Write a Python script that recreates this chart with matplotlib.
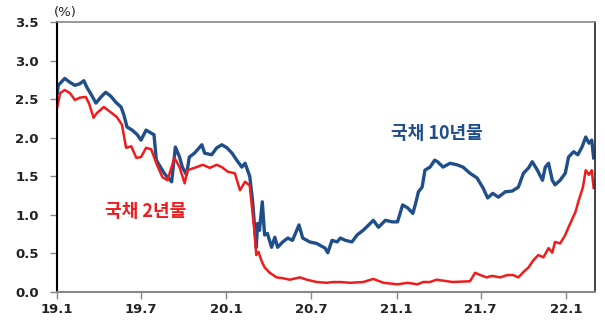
import numpy as np
import pandas as pd
import matplotlib.pyplot as plt
import matplotlib.dates as mdates

plt.rcParams['font.family'] = ['Noto Sans CJK KR', 'DejaVu Sans']

# 국채 10년물
dates_10y = ['2019-01-02', '2019-01-04', '2019-01-18', '2019-01-29', '2019-02-09', '2019-02-19',
             '2019-02-28', '2019-03-07', '2019-03-17', '2019-03-26', '2019-04-06', '2019-04-16',
             '2019-04-27', '2019-05-08', '2019-05-19', '2019-05-25', '2019-06-01', '2019-06-12',
             '2019-06-23', '2019-07-01', '2019-07-12', '2019-07-23', '2019-07-29', '2019-08-03',
             '2019-08-09', '2019-08-20', '2019-08-27', '2019-09-05', '2019-09-13', '2019-09-22',
             '2019-09-28', '2019-10-07', '2019-10-13', '2019-10-24', '2019-11-09', '2019-11-15',
             '2019-11-30', '2019-12-11', '2019-12-22', '2020-01-02', '2020-01-13', '2020-01-23',
             '2020-02-03', '2020-02-10', '2020-02-20', '2020-02-26', '2020-03-05', '2020-03-08',
             '2020-03-12', '2020-03-18', '2020-03-23', '2020-03-29', '2020-04-07', '2020-04-14',
             '2020-04-20', '2020-05-01', '2020-05-12', '2020-05-22', '2020-06-05', '2020-06-13',
             '2020-06-28', '2020-07-13', '2020-07-31', '2020-08-06', '2020-08-15', '2020-08-26',
             '2020-09-02', '2020-09-13', '2020-09-27', '2020-10-08', '2020-10-21', '2020-11-02',
             '2020-11-12', '2020-11-23', '2020-12-08', '2020-12-23', '2021-01-03', '2021-01-14',
             '2021-01-25', '2021-02-05', '2021-02-11', '2021-02-17', '2021-02-25', '2021-03-03',
             '2021-03-14', '2021-03-24', '2021-03-30', '2021-04-11', '2021-04-26', '2021-05-11',
             '2021-05-24', '2021-06-08', '2021-06-23', '2021-07-06', '2021-07-16', '2021-07-27',
             '2021-08-08', '2021-08-23', '2021-09-07', '2021-09-20', '2021-10-01', '2021-10-12',
             '2021-10-20', '2021-10-31', '2021-11-11', '2021-11-17', '2021-11-24', '2021-12-02',
             '2021-12-08', '2021-12-19', '2021-12-30', '2022-01-06', '2022-01-17', '2022-01-26',
             '2022-02-04', '2022-02-12', '2022-02-19', '2022-02-25', '2022-03-01']
yield_10y = [2.58, 2.68, 2.77, 2.72, 2.68, 2.70,
             2.74, 2.65, 2.55, 2.45, 2.53, 2.59,
             2.54, 2.46, 2.40, 2.30, 2.14, 2.10,
             2.04, 1.97, 2.10, 2.06, 2.04, 1.71,
             1.65, 1.54, 1.49, 1.43, 1.88, 1.75,
             1.62, 1.52, 1.75, 1.80, 1.91, 1.80,
             1.78, 1.87, 1.91, 1.87, 1.80, 1.71,
             1.62, 1.67, 1.50, 1.19, 0.58, 0.89,
             0.80, 1.17, 0.74, 0.76, 0.58, 0.71,
             0.58, 0.65, 0.70, 0.67, 0.87, 0.70,
             0.65, 0.63, 0.57, 0.51, 0.67, 0.65,
             0.70, 0.67, 0.65, 0.74, 0.80, 0.87,
             0.93, 0.84, 0.93, 0.91, 0.91, 1.13,
             1.09, 1.02, 1.15, 1.30, 1.36, 1.58,
             1.62, 1.71, 1.69, 1.62, 1.67, 1.65,
             1.62, 1.54, 1.48, 1.35, 1.22, 1.28,
             1.23, 1.30, 1.31, 1.36, 1.54, 1.61,
             1.69, 1.58, 1.45, 1.62, 1.67, 1.45,
             1.39, 1.45, 1.54, 1.75, 1.82, 1.78,
             1.88, 2.01, 1.93, 1.97, 1.74]

# 국채 2년물
dates_2y = ['2019-01-02', '2019-01-08', '2019-01-18', '2019-01-29', '2019-02-09', '2019-02-19',
            '2019-03-04', '2019-03-11', '2019-03-21', '2019-03-28', '2019-04-12', '2019-04-27',
            '2019-05-10', '2019-05-21', '2019-05-30', '2019-06-10', '2019-06-21', '2019-07-01',
            '2019-07-12', '2019-07-23', '2019-08-03', '2019-08-16', '2019-08-27', '2019-09-11',
            '2019-09-22', '2019-10-03', '2019-10-09', '2019-10-24', '2019-11-11', '2019-11-26',
            '2019-12-11', '2019-12-22', '2020-01-04', '2020-01-19', '2020-01-30', '2020-02-10',
            '2020-02-20', '2020-03-01', '2020-03-05', '2020-03-10', '2020-03-16', '2020-03-23',
            '2020-04-03', '2020-04-18', '2020-05-01', '2020-05-16', '2020-06-07', '2020-06-22',
            '2020-07-13', '2020-08-04', '2020-08-17', '2020-09-02', '2020-09-23', '2020-10-21',
            '2020-11-12', '2020-12-04', '2021-01-03', '2021-01-25', '2021-02-15', '2021-02-27',
            '2021-03-14', '2021-03-28', '2021-05-02', '2021-06-08', '2021-06-19', '2021-06-30',
            '2021-07-14', '2021-07-25', '2021-08-12', '2021-08-27', '2021-09-09', '2021-09-20',
            '2021-10-01', '2021-10-12', '2021-10-22', '2021-11-02', '2021-11-13', '2021-11-24',
            '2021-12-02', '2021-12-08', '2021-12-19', '2021-12-30', '2022-01-06', '2022-01-15',
            '2022-01-21', '2022-01-28', '2022-02-06', '2022-02-12', '2022-02-19', '2022-02-25',
            '2022-03-01']
yield_2y = [2.40, 2.58, 2.62, 2.58, 2.49, 2.52,
            2.53, 2.45, 2.26, 2.32, 2.40, 2.33,
            2.27, 2.17, 1.87, 1.89, 1.74, 1.75,
            1.87, 1.85, 1.67, 1.49, 1.45, 1.74,
            1.62, 1.41, 1.58, 1.61, 1.65, 1.61,
            1.65, 1.62, 1.56, 1.54, 1.32, 1.43,
            1.38, 0.80, 0.48, 0.52, 0.41, 0.32,
            0.25, 0.19, 0.18, 0.16, 0.19, 0.16,
            0.13, 0.12, 0.13, 0.13, 0.12, 0.13,
            0.17, 0.12, 0.10, 0.12, 0.10, 0.13,
            0.13, 0.16, 0.13, 0.14, 0.25, 0.22,
            0.19, 0.21, 0.19, 0.22, 0.22, 0.19,
            0.26, 0.32, 0.41, 0.48, 0.45, 0.57,
            0.51, 0.65, 0.63, 0.74, 0.84, 0.96,
            1.04, 1.19, 1.36, 1.58, 1.52, 1.58,
            1.35]

tick_dates = ['2019-01-01', '2019-07-01', '2020-01-01', '2020-07-01',
              '2021-01-01', '2021-07-01', '2022-01-01']
tick_labels = ['19.1', '19.7', '20.1', '20.7', '21.1', '21.7', '22.1']

blue = '#1f4e8a'
red = '#ee1c1c'

fig = plt.figure(figsize=(6.05, 3.30), dpi=100)
ax = fig.add_axes([0.094, 0.115, 0.8895, 0.818])

ax.plot(pd.to_datetime(dates_10y), yield_10y, color=blue, lw=2.4)
ax.plot(pd.to_datetime(dates_2y), yield_2y, color=red, lw=1.8)

ax.set_xlim(pd.Timestamp('2019-01-01'), pd.Timestamp('2022-03-04'))
ax.set_ylim(0, 3.5)
ax.set_yticks(np.arange(0, 3.51, 0.5))
ax.set_yticklabels(['%.1f' % v for v in np.arange(0, 3.51, 0.5)],
                   fontsize=9.5, fontweight='bold', family='DejaVu Sans', color='#222222')
ax.set_xticks(pd.to_datetime(tick_dates))
ax.set_xticklabels(tick_labels, fontsize=9.5, fontweight='bold', family='DejaVu Sans',
                   color='#222222')
ax.tick_params(axis='both', direction='out', length=5, color='#888888', width=1)
ax.tick_params(axis='y', pad=8)
ax.tick_params(axis='x', pad=3)

ax.spines['left'].set_color('black')
ax.spines['left'].set_linewidth(1.5)
ax.spines['right'].set_color('#222222')
ax.spines['right'].set_linewidth(1.2)
ax.spines['top'].set_color('#888888')
ax.spines['bottom'].set_color('#888888')
ax.spines['top'].set_linewidth(1.2)
ax.spines['bottom'].set_linewidth(1.5)

ax.annotate('(%)', xy=(-0.005, 1.037), xycoords='axes fraction', ha='left', va='center',
            fontsize=9.5, family='DejaVu Sans', color='#222222')
ax.text(pd.Timestamp('2021-03-28'), 2.06, '국채 10년물', color=blue, fontsize=13,
        fontweight='bold', ha='center', va='center')
ax.text(pd.Timestamp('2019-07-12'), 1.05, '국채 2년물', color=red, fontsize=13,
        fontweight='bold', ha='center', va='center')

fig.savefig('out.png', dpi=100)
